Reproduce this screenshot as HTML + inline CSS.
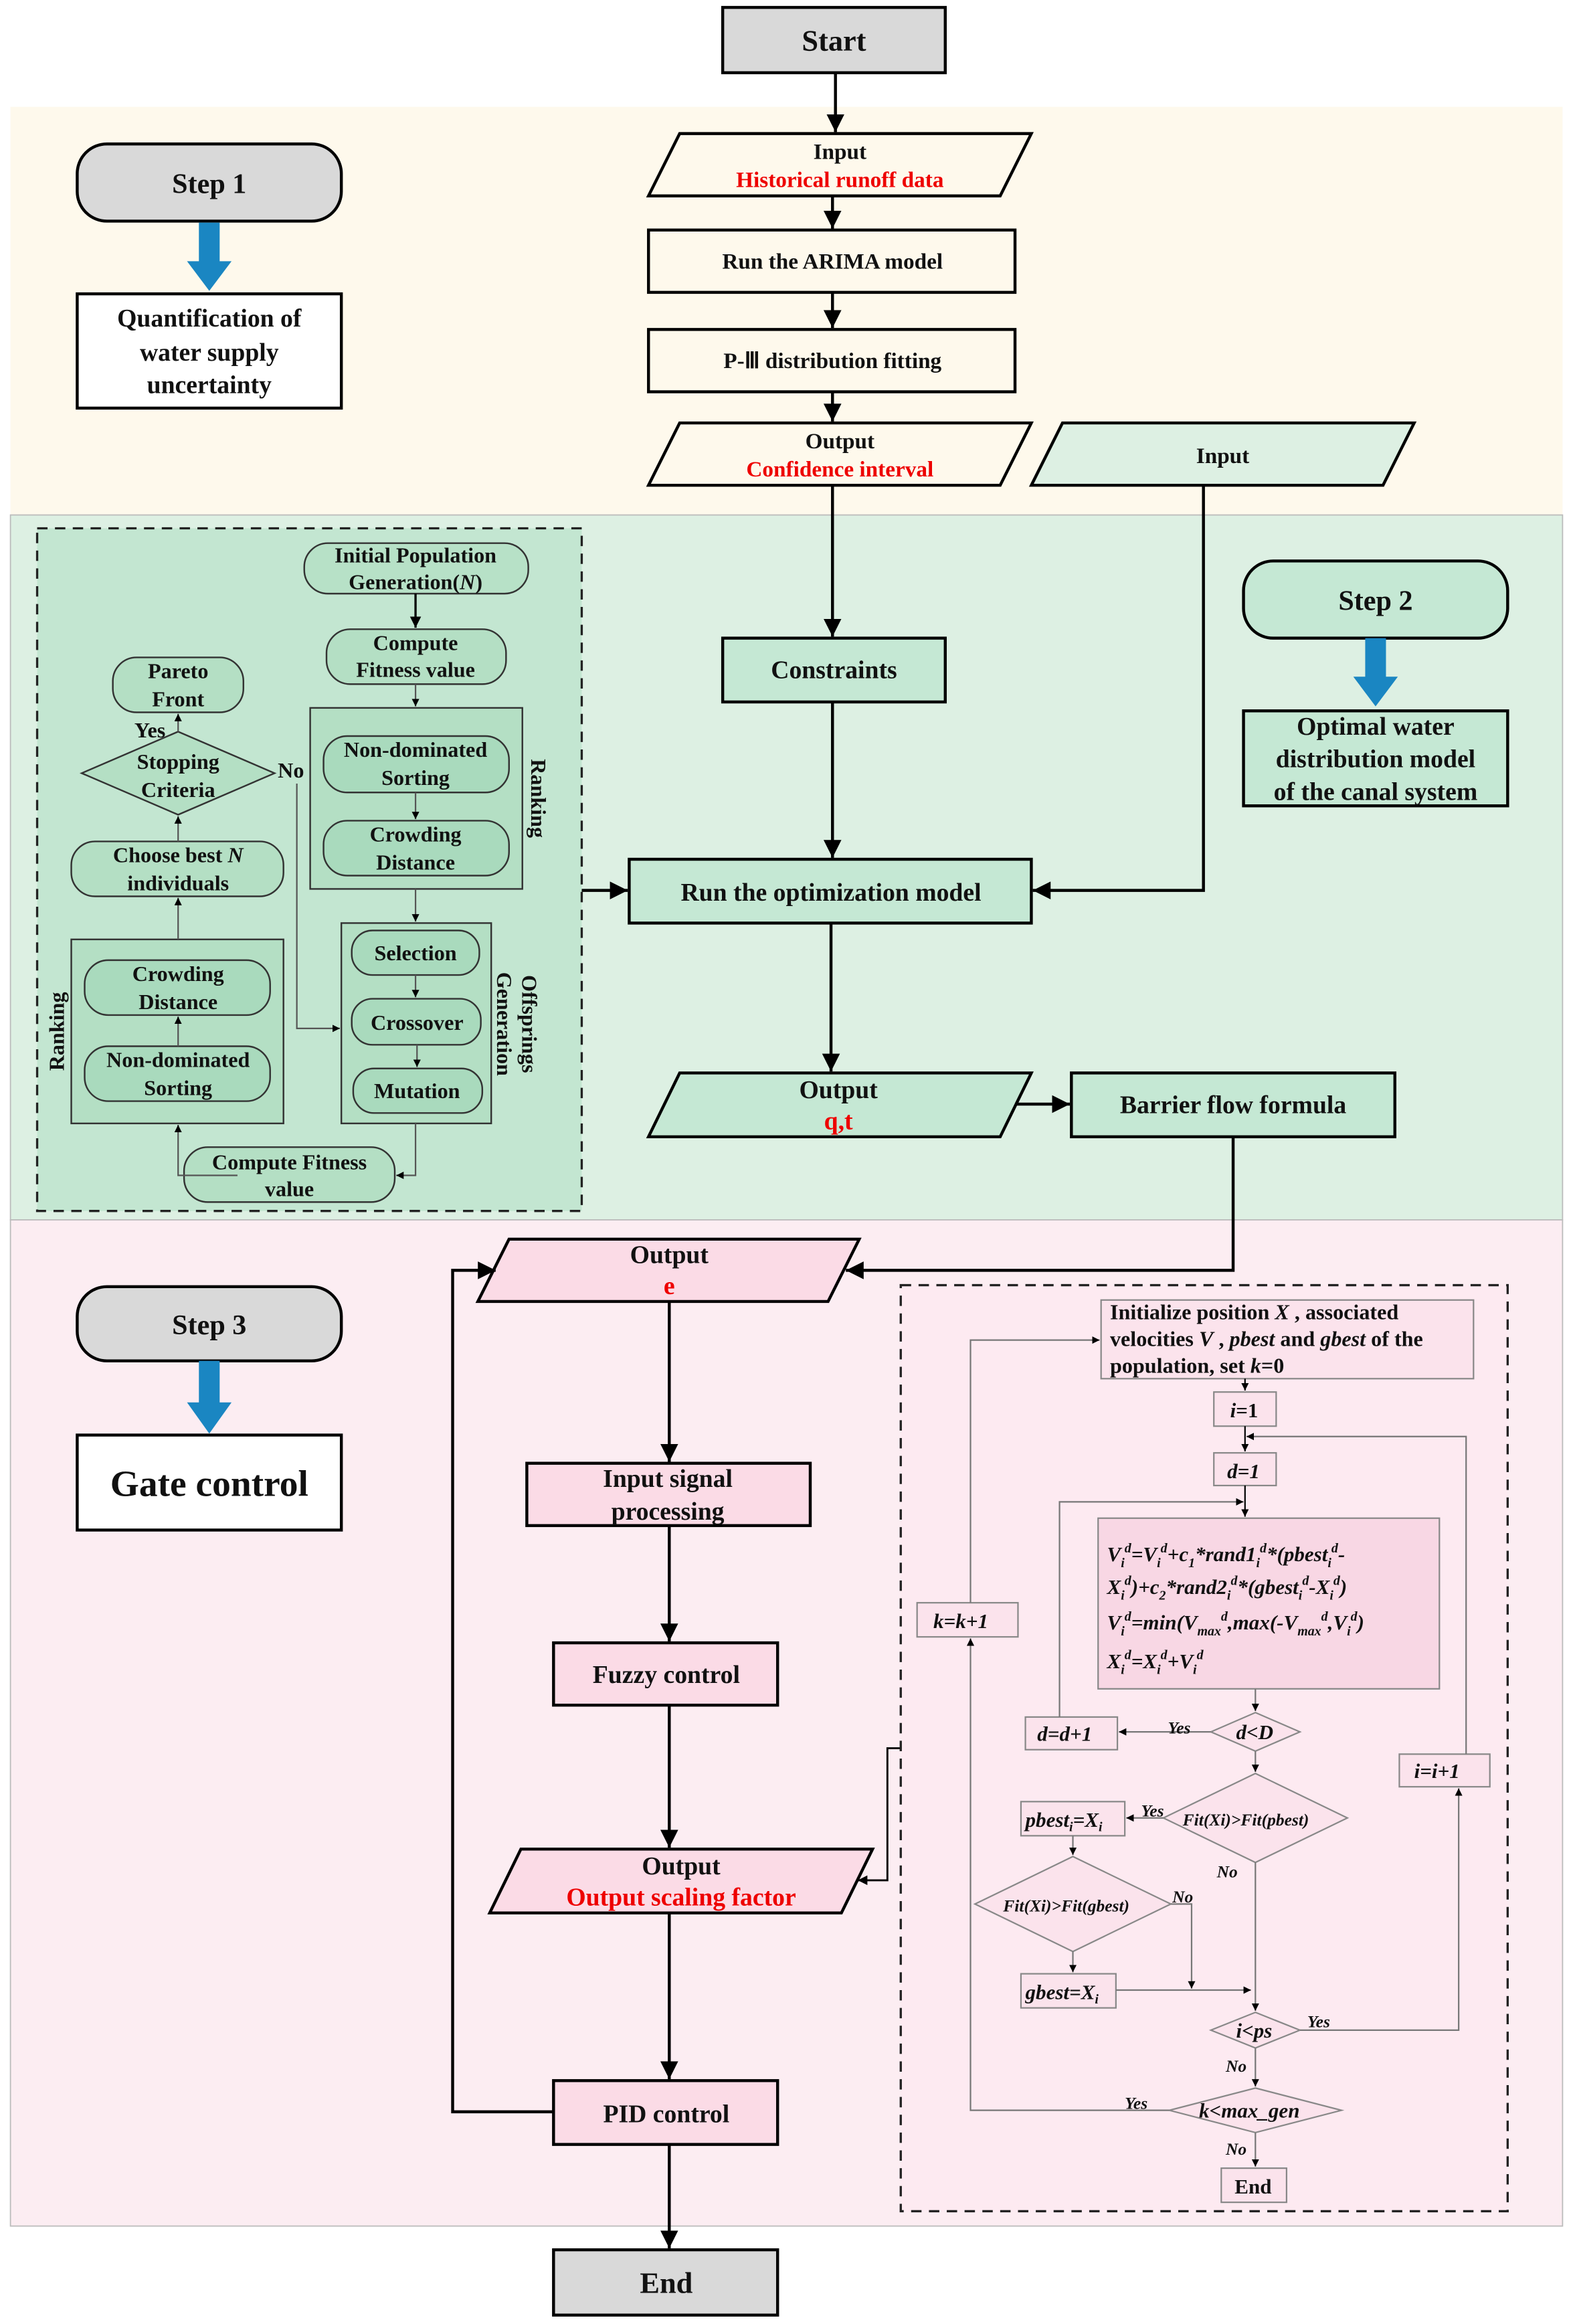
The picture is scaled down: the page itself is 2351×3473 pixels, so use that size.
<!DOCTYPE html>
<html><head><meta charset="utf-8"><style>
html,body{margin:0;padding:0;background:#fff}
svg{display:block}
text{font-family:"Liberation Serif",serif;font-weight:bold;fill:#111}
</style></head><body>
<svg width="2351" height="3473" viewBox="0 0 1060 1566" xmlns="http://www.w3.org/2000/svg">
<defs>
<marker id="a" viewBox="0 0 10 10" refX="10" refY="5" markerWidth="6" markerHeight="6" orient="auto-start-reverse"><path d="M0,0L10,5L0,10z" fill="#000"/></marker>
<marker id="s" viewBox="0 0 10 10" refX="10" refY="5" markerWidth="5" markerHeight="5" orient="auto-start-reverse"><path d="M0,0L10,5L0,10z" fill="#000"/></marker>
</defs>
<rect width="1060" height="1566" fill="#fff"/>
<rect x="7" y="72" width="1046" height="275" fill="#fef9ec"/>
<rect x="7" y="347" width="1046" height="475" fill="#ddf0e3" stroke="#bbb" stroke-width="0.8"/>
<rect x="7" y="822" width="1046" height="678" fill="#fcedf2" stroke="#bbb" stroke-width="0.8"/>

<g stroke="#000" stroke-width="2" fill="none">
<rect x="487" y="5" width="150" height="44" fill="#d9d9d9"/>
<line x1="563" y1="49" x2="563" y2="89" marker-end="url(#a)"/>
<polygon points="458,90 695,90 674,132 437,132" fill="#fef9ec"/>
<line x1="561" y1="132" x2="561" y2="154" marker-end="url(#a)"/>
<rect x="437" y="155" width="247" height="42" fill="#fef9ec"/>
<line x1="561" y1="197" x2="561" y2="221" marker-end="url(#a)"/>
<rect x="437" y="222" width="247" height="42" fill="#fef9ec"/>
<line x1="561" y1="264" x2="561" y2="284" marker-end="url(#a)"/>
<polygon points="458,285 695,285 674,327 437,327" fill="#fef9ec"/>
<polygon points="716,285 953,285 932,327 695,327" fill="#ddf0e3"/>
<line x1="561" y1="327" x2="561" y2="429" marker-end="url(#a)"/>
<rect x="487" y="430" width="150" height="43" fill="#c5e8d4"/>
<line x1="561" y1="473" x2="561" y2="578" marker-end="url(#a)"/>
<polyline points="811,327 811,600 696,600" marker-end="url(#a)"/>
<rect x="424" y="579" width="271" height="43" fill="#c5e8d4"/>
<line x1="560" y1="622" x2="560" y2="722" marker-end="url(#a)"/>
<polygon points="458,723 695,723 674,766 437,766" fill="#c5e8d4"/>
<line x1="684" y1="744" x2="721" y2="744" marker-end="url(#a)"/>
<rect x="722" y="723" width="218" height="43" fill="#c5e8d4"/>
<line x1="392" y1="600" x2="423" y2="600" marker-end="url(#a)"/>
<polyline points="831,766 831,856 570,856" marker-end="url(#a)"/>
<polygon points="343,835 579,835 558,877 322,877" fill="#fbdbe6"/>
<line x1="451" y1="877" x2="451" y2="985" marker-end="url(#a)"/>
<rect x="355" y="986" width="191" height="42" fill="#fbdbe6"/>
<line x1="451" y1="1028" x2="451" y2="1106" marker-end="url(#a)"/>
<rect x="373" y="1107" width="151" height="42" fill="#fbdbe6"/>
<line x1="451" y1="1149" x2="451" y2="1245" marker-end="url(#a)"/>
<polygon points="351,1246 588,1246 567,1289 330,1289" fill="#fbdbe6"/>
<polyline points="607,1178 598,1178 598,1267 578,1267" stroke-width="1.3" marker-end="url(#s)"/>
<line x1="451" y1="1289" x2="451" y2="1401" marker-end="url(#a)"/>
<rect x="373" y="1402" width="151" height="43" fill="#fbdbe6"/>
<polyline points="373,1423 305,1423 305,856 334,856" marker-end="url(#a)"/>
<line x1="451" y1="1445" x2="451" y2="1515" marker-end="url(#a)"/>
<rect x="373" y="1516" width="151" height="44" fill="#d9d9d9"/>

<rect x="52" y="97" width="178" height="52" rx="20" fill="#d9d9d9"/>
<rect x="52" y="198" width="178" height="77" fill="#fff"/>
<rect x="838" y="378" width="178" height="52" rx="20" fill="#c5e8d4"/>
<rect x="838" y="479" width="178" height="64" fill="#c5e8d4"/>
<rect x="52" y="867" width="178" height="50" rx="20" fill="#d9d9d9"/>
<rect x="52" y="967" width="178" height="64" fill="#fff"/>
</g>
<g fill="#1a86c2">
<rect x="134" y="150" width="14" height="28"/><polygon points="126,176 156,176 141,196"/>
<rect x="920" y="430" width="14" height="28"/><polygon points="912,456 942,456 927,476"/>
<rect x="134" y="917" width="14" height="30"/><polygon points="126,945 156,945 141,966"/>
</g>

<rect x="25" y="356" width="367" height="460" fill="#c3e6d1" stroke="#222" stroke-width="1.5" stroke-dasharray="7,5"/>
<g stroke="#333" stroke-width="1.1" fill="#b4dfc4">
<rect x="209" y="477" width="143" height="122"/>
<rect x="230" y="622" width="101" height="135"/>
<rect x="48" y="633" width="143" height="124"/>
<rect x="205" y="366" width="151" height="34" rx="16" fill="#b7e1c7"/>
<rect x="220" y="424" width="121" height="37" rx="16"/>
<rect x="218" y="496" width="125" height="38" rx="16" fill="#a9dabd"/>
<rect x="218" y="553" width="125" height="37" rx="16" fill="#a9dabd"/>
<rect x="237" y="627" width="86" height="30" rx="14" fill="#a9dabd"/>
<rect x="237" y="673" width="87" height="31" rx="14" fill="#a9dabd"/>
<rect x="238" y="720" width="87" height="30" rx="14" fill="#a9dabd"/>
<rect x="124" y="773" width="142" height="37" rx="16"/>
<rect x="57" y="647" width="125" height="37" rx="16" fill="#a9dabd"/>
<rect x="57" y="705" width="125" height="37" rx="16" fill="#a9dabd"/>
<rect x="48" y="567" width="143" height="37" rx="16"/>
<polygon points="120,493 185,521 120,549 55,521"/>
<rect x="76" y="443" width="88" height="37" rx="16"/>
</g>
<g stroke="#555" stroke-width="1" fill="none" marker-end="url(#s)">
<line x1="280" y1="400" x2="280" y2="423" stroke="#000" stroke-width="1.5"/>
<line x1="280" y1="461" x2="280" y2="476"/>
<line x1="280" y1="534" x2="280" y2="552"/>
<line x1="280" y1="599" x2="280" y2="621"/>
<line x1="280" y1="657" x2="280" y2="672"/>
<line x1="281" y1="704" x2="281" y2="719"/>
<polyline points="280,757 280,792 267,792"/>
<polyline points="160,792 120,792 120,758"/>
<line x1="120" y1="705" x2="120" y2="685"/>
<line x1="120" y1="633" x2="120" y2="605"/>
<line x1="120" y1="567" x2="120" y2="550"/>
<line x1="120" y1="493" x2="120" y2="481"/>
<polyline points="200,528 200,693 229,693"/>
</g>
<g font-size="14.5" text-anchor="middle">
<text x="280" y="379">Initial Population</text><text x="280" y="397">Generation(<tspan font-style="italic">N</tspan>)</text>
<text x="280" y="438">Compute</text><text x="280" y="456">Fitness value</text>
<text x="280" y="510">Non-dominated</text><text x="280" y="529">Sorting</text>
<text x="280" y="567">Crowding</text><text x="280" y="586">Distance</text>
<text x="280" y="647">Selection</text>
<text x="281" y="694">Crossover</text>
<text x="281" y="740">Mutation</text>
<text x="195" y="788">Compute Fitness</text><text x="195" y="806">value</text>
<text x="120" y="661">Crowding</text><text x="120" y="680">Distance</text>
<text x="120" y="719">Non-dominated</text><text x="120" y="738">Sorting</text>
<text x="120" y="581">Choose best <tspan font-style="italic">N</tspan></text><text x="120" y="600">individuals</text>
<text x="120" y="518">Stopping</text><text x="120" y="537">Criteria</text>
<text x="120" y="457">Pareto</text><text x="120" y="476">Front</text>
<text x="101" y="497">Yes</text><text x="196" y="524">No</text>
<text transform="translate(358,538) rotate(90)">Ranking</text>
<text transform="translate(352,690) rotate(90)">Offsprings</text>
<text transform="translate(335,690) rotate(90)">Generation</text>
<text transform="translate(43,695) rotate(-90)">Ranking</text>
</g>

<g text-anchor="middle">
<text x="562" y="34" font-size="20">Start</text>
<text x="566" y="107" font-size="15">Input</text>
<text x="566" y="126" font-size="15" style="fill:#e00">Historical runoff data</text>
<text x="561" y="181" font-size="15">Run the ARIMA model</text>
<text x="561" y="248" font-size="15">P-Ⅲ distribution fitting</text>
<text x="566" y="302" font-size="15">Output</text>
<text x="566" y="321" font-size="15" style="fill:#e00">Confidence interval</text>
<text x="824" y="312" font-size="15">Input</text>
<text x="562" y="457" font-size="17">Constraints</text>
<text x="560" y="607" font-size="17">Run the optimization model</text>
<text x="565" y="740" font-size="17">Output</text>
<text x="565" y="761" font-size="17" style="fill:#e00">q,t</text>
<text x="831" y="750" font-size="17">Barrier flow formula</text>
<text x="451" y="851" font-size="17">Output</text>
<text x="451" y="872" font-size="17" style="fill:#e00">e</text>
<text x="450" y="1002" font-size="17">Input signal</text>
<text x="450" y="1024" font-size="17">processing</text>
<text x="449" y="1134" font-size="17">Fuzzy control</text>
<text x="459" y="1263" font-size="17">Output</text>
<text x="459" y="1284" font-size="17" style="fill:#e00">Output scaling factor</text>
<text x="449" y="1430" font-size="17">PID control</text>
<text x="449" y="1545" font-size="20">End</text>
<text x="141" y="130" font-size="19">Step 1</text>
<text x="141" y="220" font-size="17">Quantification of</text>
<text x="141" y="243" font-size="17">water supply</text>
<text x="141" y="265" font-size="17">uncertainty</text>
<text x="927" y="411" font-size="19">Step 2</text>
<text x="927" y="495" font-size="17">Optimal water</text>
<text x="927" y="517" font-size="17">distribution model</text>
<text x="927" y="539" font-size="17">of the canal system</text>
<text x="141" y="899" font-size="19">Step 3</text>
<text x="141" y="1008" font-size="25">Gate control</text>
</g>

<rect x="607" y="866" width="409" height="624" fill="#fdeaf1" stroke="#222" stroke-width="1.5" stroke-dasharray="7,5"/>
<g stroke="#888" stroke-width="1" fill="#fbe3ec">
<rect x="742" y="876" width="251" height="53"/>
<rect x="818" y="938" width="42" height="23"/>
<rect x="818" y="979" width="42" height="22"/>
<rect x="740" y="1023" width="230" height="115" fill="#f8d7e4"/>
<polygon points="846,1154 876,1167 846,1180 816,1167"/>
<rect x="691" y="1157" width="62" height="22"/>
<rect x="618" y="1080" width="68" height="23"/>
<polygon points="846,1195 908,1225 846,1255 784,1225"/>
<rect x="688" y="1214" width="70" height="23"/>
<polygon points="723,1251 789,1283 723,1315 657,1283"/>
<rect x="688" y="1330" width="64" height="23"/>
<polygon points="846,1356 876,1368 846,1380 816,1368"/>
<rect x="943" y="1182" width="61" height="22"/>
<polygon points="846,1407 904,1422 846,1437 788,1422"/>
<rect x="823" y="1461" width="44" height="23"/>
</g>
<g stroke="#777" stroke-width="1" fill="none" marker-end="url(#s)">
<line x1="839" y1="929" x2="839" y2="937" stroke="#000"/>
<line x1="839" y1="961" x2="839" y2="978" stroke="#000"/>
<line x1="839" y1="1001" x2="839" y2="1022" stroke="#000"/>
<line x1="846" y1="1138" x2="846" y2="1153"/>
<line x1="846" y1="1180" x2="846" y2="1194"/>
<line x1="816" y1="1167" x2="754" y2="1167"/>
<polyline points="714,1157 714,1012 838,1012"/>
<line x1="784" y1="1225" x2="759" y2="1225"/>
<line x1="723" y1="1237" x2="723" y2="1250"/>
<line x1="723" y1="1315" x2="723" y2="1329"/>
<polyline points="789,1283 803,1283 803,1340"/>
<line x1="752" y1="1341" x2="843" y2="1341"/>
<line x1="846" y1="1255" x2="846" y2="1355"/>
<line x1="846" y1="1380" x2="846" y2="1406"/>
<line x1="846" y1="1437" x2="846" y2="1460"/>
<polyline points="876,1368 983,1368 983,1205"/>
<polyline points="988,1182 988,968 840,968"/>
<polyline points="788,1422 654,1422 654,1104"/>
<polyline points="654,1080 654,903 741,903"/>
</g>
<g font-size="14.5">
<text x="748" y="889">Initialize position <tspan font-style="italic">X</tspan> , associated</text>
<text x="748" y="907">velocities <tspan font-style="italic">V</tspan> , <tspan font-style="italic">pbest</tspan> and <tspan font-style="italic">gbest</tspan> of the</text>
<text x="748" y="925">population, set <tspan font-style="italic">k</tspan>=0</text>
</g>
<g font-style="italic" font-size="14">
<text x="829" y="955"><tspan>i</tspan><tspan font-style="normal">=1</tspan></text>
<text x="827" y="996">d=1</text>
<text x="746" y="1052">V<tspan font-size="9" dy="4">i</tspan><tspan font-size="9" dy="-10">d</tspan><tspan dy="6">=V</tspan><tspan font-size="9" dy="4">i</tspan><tspan font-size="9" dy="-10">d</tspan><tspan dy="6">+c</tspan><tspan font-size="9" dy="4">1</tspan><tspan dy="-4">*rand1</tspan><tspan font-size="9" dy="4">i</tspan><tspan font-size="9" dy="-10">d</tspan><tspan dy="6">*(pbest</tspan><tspan font-size="9" dy="4">i</tspan><tspan font-size="9" dy="-10">d</tspan><tspan dy="6">-</tspan></text>
<text x="746" y="1074">X<tspan font-size="9" dy="4">i</tspan><tspan font-size="9" dy="-10">d</tspan><tspan dy="6">)+c</tspan><tspan font-size="9" dy="4">2</tspan><tspan dy="-4">*rand2</tspan><tspan font-size="9" dy="4">i</tspan><tspan font-size="9" dy="-10">d</tspan><tspan dy="6">*(gbest</tspan><tspan font-size="9" dy="4">i</tspan><tspan font-size="9" dy="-10">d</tspan><tspan dy="6">-X</tspan><tspan font-size="9" dy="4">i</tspan><tspan font-size="9" dy="-10">d</tspan><tspan dy="6">)</tspan></text>
<text x="746" y="1098">V<tspan font-size="9" dy="4">i</tspan><tspan font-size="9" dy="-10">d</tspan><tspan dy="6">=min(V</tspan><tspan font-size="9" dy="4">max</tspan><tspan font-size="9" dy="-10">d</tspan><tspan dy="6">,max(-V</tspan><tspan font-size="9" dy="4">max</tspan><tspan font-size="9" dy="-10">d</tspan><tspan dy="6">,V</tspan><tspan font-size="9" dy="4">i</tspan><tspan font-size="9" dy="-10">d</tspan><tspan dy="6">)</tspan></text>
<text x="746" y="1124">X<tspan font-size="9" dy="4">i</tspan><tspan font-size="9" dy="-10">d</tspan><tspan dy="6">=X</tspan><tspan font-size="9" dy="4">i</tspan><tspan font-size="9" dy="-10">d</tspan><tspan dy="6">+V</tspan><tspan font-size="9" dy="4">i</tspan><tspan font-size="9" dy="-10">d</tspan></text>
<text x="833" y="1172">d&lt;D</text>
<text x="699" y="1173">d=d+1</text>
<text x="629" y="1097">k=k+1</text>
<text x="953" y="1198">i=i+1</text>
<text x="691" y="1231">pbest<tspan font-size="9" dy="3">i</tspan><tspan dy="-3">=X</tspan><tspan font-size="9" dy="3">i</tspan></text>
<text x="691" y="1347">gbest=X<tspan font-size="9" dy="3">i</tspan></text>
<text x="833" y="1373">i&lt;ps</text>
<text x="808" y="1427">k&lt;max_gen</text>
<text x="832" y="1478" font-style="normal">End</text>
<g font-size="11.5">
<text x="797" y="1230">Fit(Xi)&gt;Fit(pbest)</text>
<text x="676" y="1288">Fit(Xi)&gt;Fit(gbest)</text>
<text x="787" y="1168">Yes</text>
<text x="769" y="1224">Yes</text>
<text x="820" y="1265">No</text>
<text x="790" y="1282">No</text>
<text x="881" y="1366">Yes</text>
<text x="826" y="1396">No</text>
<text x="758" y="1421">Yes</text>
<text x="826" y="1452">No</text>
</g>
</g>
</svg>
</body></html>
